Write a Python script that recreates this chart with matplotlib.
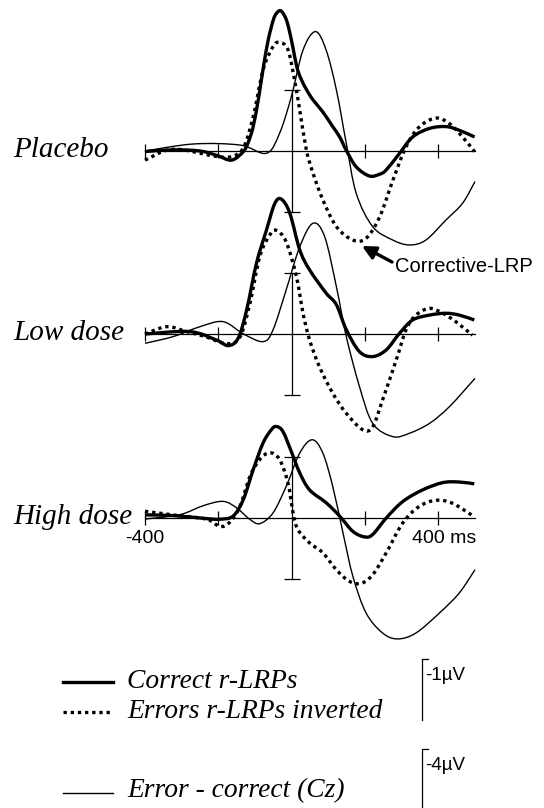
import numpy as np
import matplotlib
matplotlib.use("Agg")
import matplotlib.pyplot as plt
from matplotlib.path import Path
from matplotlib.patches import PathPatch

# ---- data (time in ms, amplitude in µV; negative plotted upwards) ----
conditions = ["Placebo", "Low dose", "High dose"]

# Placebo
plc_cor_t = [-400, -323, -250, -205, -164, -132, -118, -105, -91, -77, -64, -50, -41, -30, -18,
             -9, 3, 14, 25, 41, 58, 85, 112, 131, 149, 176, 212, 240, 258, 294, 330, 376, 421,
             457, 499]
plc_cor_v = [0.01, -0.02, 0.0, 0.07, 0.15, 0.01, -0.15, -0.40, -0.84, -1.38, -1.82, -2.15, -2.26,
             -2.30, -2.20, -2.04, -1.71, -1.38, -1.19, -1.0, -0.84, -0.64, -0.40, -0.23, -0.01,
             0.26, 0.41, 0.38, 0.31, 0.04, -0.23, -0.37, -0.40, -0.34, -0.23]
plc_err_t = [-400, -323, -205, -164, -132, -105, -78, -51, -33, -10, 8, 22, 40, 58, 85, 122, 167,
             203, 240, 276, 312, 349, 394, 430, 466, 499]
plc_err_v = [0.15, -0.03, 0.09, 0.09, -0.05, -0.56, -1.33, -1.71, -1.78, -1.66, -1.16, -0.67,
             -0.02, 0.36, 0.80, 1.24, 1.46, 1.43, 1.08, 0.48, -0.07, -0.40, -0.54, -0.45, -0.23, 0.01]
plc_cz_t = [-400, -268, -141, -69, -33, -1, 31, 65, 94, 122, 149, 176, 221, 276, 321, 366, 421,
            466, 500]
plc_cz_v = [0.0, -0.46, -0.39, 0.15, -1.16, -3.56, -6.62, -7.83, -6.62, -4.0, -0.5, 2.77, 4.96,
            5.84, 6.16, 5.84, 4.52, 3.43, 2.0]

# Low dose
low_cor_t = [-400, -278, -205, -173, -146, -123, -96, -69, -46, -28, -5, 22, 49, 94, 122, 149,
             185, 221, 258, 294, 330, 376, 421, 457, 498]
low_cor_v = [0.0, -0.04, 0.1, 0.19, 0.07, -0.39, -1.16, -1.70, -2.14, -2.21, -1.98, -1.38, -1.05,
             -0.67, -0.48, -0.07, 0.29, 0.37, 0.26, -0.01, -0.23, -0.31, -0.34, -0.31, -0.23]
low_err_t = [-400, -341, -287, -232, -178, -141, -114, -87, -60, -42, -15, 13, 31, 49, 76, 112,
             149, 194, 221, 248, 285, 312, 339, 376, 412, 448, 493]
low_err_v = [0.0, -0.12, -0.04, 0.05, 0.16, 0.05, -0.5, -1.27, -1.62, -1.70, -1.51, -0.94, -0.34,
             0.1, 0.54, 0.97, 1.30, 1.57, 1.52, 1.08, 0.43, -0.07, -0.31, -0.42, -0.34, -0.2, 0.02]
low_cz_t = [-400, -323, -250, -187, -132, -78, -51, -15, 22, 58, 90, 122, 149, 185, 221, 276,
            321, 376, 430, 500]
low_cz_v = [0.61, 0.17, -0.48, -0.81, -0.01, 0.5, -0.26, -2.89, -5.72, -7.26, -6.38, -3.1, 0.17,
            3.45, 5.86, 6.73, 6.51, 5.86, 4.77, 2.91]

# High dose
hi_cor_t = [-400, -323, -232, -196, -160, -132, -105, -78, -55, -42, -24, -1, 22, 49, 94, 131,
            167, 199, 221, 258, 303, 357, 412, 457, 498]
hi_cor_v = [-0.05, -0.04, 0.01, 0.02, -0.03, -0.30, -0.79, -1.23, -1.45, -1.50, -1.42, -1.09,
            -0.74, -0.46, -0.25, -0.03, 0.22, 0.31, 0.27, 0.0, -0.27, -0.46, -0.58, -0.59, -0.56]
hi_err_t = [-400, -323, -232, -196, -169, -141, -114, -87, -60, -33, -10, 4, 17, 49, 85, 122, 158,
            190, 221, 258, 303, 348, 394, 439, 498]
hi_err_v = [-0.11, -0.05, 0.02, 0.14, 0.07, -0.19, -0.68, -0.96, -1.07, -0.96, -0.57, -0.08, 0.19,
            0.41, 0.57, 0.85, 1.04, 1.07, 0.93, 0.57, 0.08, -0.19, -0.29, -0.24, -0.02]
hi_cz_t = [-400, -305, -241, -187, -150, -114, -87, -51, -15, 22, 56, 85, 112, 140, 167, 203,
           248, 289, 339, 403, 457, 500]
hi_cz_v = [0.07, -0.22, -0.81, -1.09, -0.66, 0.09, 0.37, -0.33, -2.07, -4.26, -5.13, -4.26, -2.07,
           0.98, 3.83, 6.23, 7.54, 7.93, 7.54, 6.23, 4.92, 3.39]

panels = [
    (plc_cor_t, plc_cor_v, plc_err_t, plc_err_v, plc_cz_t, plc_cz_v),
    (low_cor_t, low_cor_v, low_err_t, low_err_v, low_cz_t, low_cz_v),
    (hi_cor_t, hi_cor_v, hi_err_t, hi_err_v, hi_cz_t, hi_cz_v),
]

x_ticks = [-400, -200, 200, 400]
lrp_scale = 1.0   # µV per vertical half-axis (LRP)
cz_scale = 4.0    # µV per vertical half-axis (Cz)


def smooth_path(t, v):
    # smooth curve through the points (Catmull-Rom drawn as cubic Bezier)
    p = np.column_stack([t, v]).astype(float)
    n = len(p)
    verts = [p[0]]
    codes = [Path.MOVETO]
    for i in range(n - 1):
        p0 = p[i - 1] if i > 0 else p[i]
        p1, p2 = p[i], p[i + 1]
        p3 = p[i + 2] if i + 2 < n else p[i + 1]
        verts += [p1 + (p2 - p0) / 6, p2 - (p3 - p1) / 6, p2]
        codes += [Path.CURVE4] * 3
    return Path(verts, codes)


def draw_wave(ax, t, v, **kw):
    ax.add_patch(PathPatch(smooth_path(t, v), fill=False, color="black", clip_on=False, **kw))


dots = (0, (1, 1.15))

# ---- layout (pixels of a 544x808 figure) ----
W, H = 544, 808
fig = plt.figure(figsize=(W / 100, H / 100), dpi=100)
baselines = [151, 334, 518]
px_per_uv = 61
x_left, x_right = 145, 475
half = 100

serif = "Liberation Serif"
sans = "Liberation Sans"

for (ct, cv, et, ev, zt, zv), yb, name in zip(panels, baselines, conditions):
    ax = fig.add_axes([x_left / W, 1 - (yb + half) / H, (x_right - x_left) / W, 2 * half / H])
    ax.set_xlim(-400, 500)
    ax.set_ylim(half / px_per_uv, -half / px_per_uv)
    ax.axis("off")
    ax.patch.set_alpha(0)

    # axes lines
    ax.plot([-400, 500], [0, 0], color="black", lw=0.9, clip_on=False)
    ax.plot(x_ticks, [0] * len(x_ticks), ls="none", marker="|", ms=10, mew=0.9,
            color="black", clip_on=False)
    ax.plot([0, 0], [-lrp_scale, lrp_scale], color="black", lw=0.9, clip_on=False)
    ax.plot([0, 0], [-lrp_scale, lrp_scale], ls="none", marker="_", ms=12, mew=0.9,
            color="black", clip_on=False)

    # waveforms
    draw_wave(ax, zt, np.array(zv) / cz_scale, lw=1.0)
    draw_wave(ax, et, ev, lw=2.4, ls=dots)
    draw_wave(ax, ct, cv, lw=2.4, joinstyle="round")

    fig.text(13 / W, 1 - (yb + 6) / H, name, fontsize=21, family=serif, style="italic",
             va="baseline", ha="left")

    if name == "High dose":
        ax.text(-400, 20.5 / px_per_uv, "-400", fontsize=14, family=sans, ha="center",
                va="center")
        ax.text(417, 20.5 / px_per_uv, "400 ms", fontsize=14, family=sans, ha="center",
                va="center")

# overlay in pixel coordinates for annotation, legend and scale bars
ov = fig.add_axes([0, 0, 1, 1])
ov.set_xlim(0, W)
ov.set_ylim(H, 0)
ov.axis("off")
ov.patch.set_alpha(0)

ov.text(395, 266, "Corrective-LRP", fontsize=14.5, family=sans, va="center", ha="left")
ov.annotate("", xy=(362, 246), xytext=(392, 262),
            arrowprops=dict(arrowstyle="-|>,head_length=0.8,head_width=0.4",
                            color="black", lw=2.4, shrinkA=0, shrinkB=0))

# legend
ov.plot([63, 113], [682, 682], color="black", lw=2.4)
ov.plot([63, 113], [712, 712], color="black", lw=2.4, ls=dots)
ov.plot([63, 113], [793, 793], color="black", lw=1.0)
ov.text(127, 688, "Correct r-LRPs", fontsize=19.8, family=serif, style="italic", va="baseline")
ov.text(127, 718, "Errors r-LRPs inverted", fontsize=19.8, family=serif, style="italic",
        va="baseline")
ov.text(127, 797, "Error - correct (Cz)", fontsize=19.8, family=serif, style="italic",
        va="baseline")

# scale bars
for top, label in [(659, "-1µV"), (749, "-4µV")]:
    ov.plot([428, 422, 422], [top, top, top + px_per_uv], color="black", lw=0.9,
            clip_on=False)
    ov.text(425, top + 17, label, fontsize=13.5, family=sans, va="center", ha="left")

fig.savefig("out.png", dpi=100, facecolor="white")
